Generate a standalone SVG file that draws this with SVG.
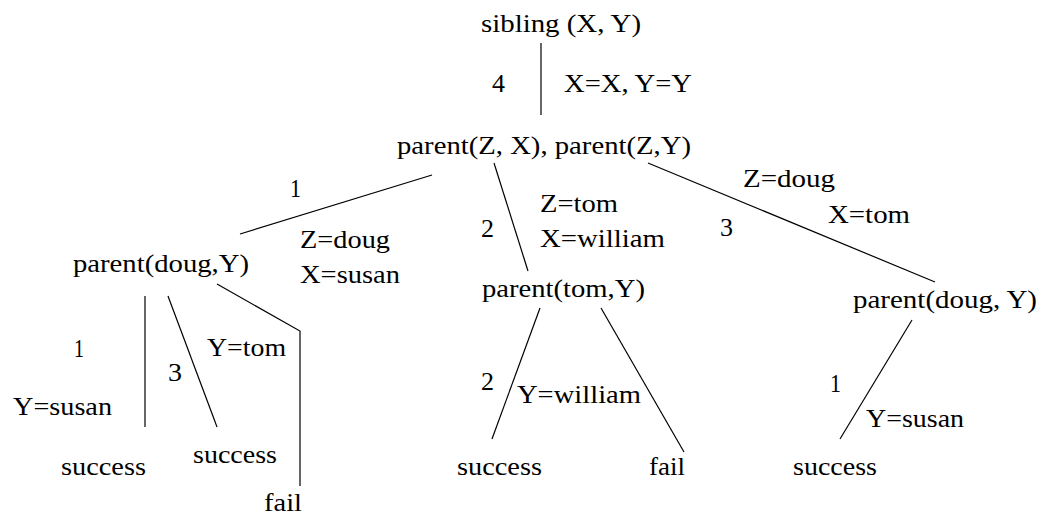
<svg xmlns="http://www.w3.org/2000/svg" width="1039" height="519" viewBox="0 0 1039 519">
<style>
text{font-family:"Liberation Serif","Times New Roman",serif;font-size:25px;fill:#000}
.c line,.c polyline{stroke:#000;stroke-width:1.2;fill:none}
</style>
<rect width="1039" height="519" fill="#fff"/>
<g class="c" id="connectors">
<line x1="541" y1="43" x2="541" y2="115"/>
<line x1="432" y1="175" x2="240" y2="234"/>
<line x1="494" y1="163" x2="528" y2="271"/>
<line x1="648" y1="163" x2="935" y2="282"/>
<line x1="145" y1="296" x2="145" y2="427"/>
<line x1="168" y1="296" x2="217" y2="427"/>
<polyline points="217,284 300,331 300,486"/>
<line x1="540" y1="308" x2="492" y2="439"/>
<line x1="601" y1="308" x2="684" y2="452"/>
<line x1="912" y1="320" x2="840" y2="439"/>
</g>
<g id="n-root"><text x="481" y="32" textLength="160" lengthAdjust="spacingAndGlyphs">sibling (X, Y)</text></g>
<g id="n-goal"><text x="397" y="154" textLength="294" lengthAdjust="spacingAndGlyphs">parent(Z, X), parent(Z,Y)</text></g>
<g id="n-doug1"><text x="73" y="272" textLength="176" lengthAdjust="spacingAndGlyphs">parent(doug,Y)</text></g>
<g id="n-tom"><text x="482" y="297" textLength="163" lengthAdjust="spacingAndGlyphs">parent(tom,Y)</text></g>
<g id="n-doug2"><text x="853" y="308" textLength="184" lengthAdjust="spacingAndGlyphs">parent(doug, Y)</text></g>
<g id="n-s1"><text x="61" y="475" textLength="85" lengthAdjust="spacingAndGlyphs">success</text></g>
<g id="n-s2"><text x="193" y="463" textLength="84" lengthAdjust="spacingAndGlyphs">success</text></g>
<g id="n-f1"><text x="264" y="511" textLength="38" lengthAdjust="spacingAndGlyphs">fail</text></g>
<g id="n-s3"><text x="457" y="475" textLength="85" lengthAdjust="spacingAndGlyphs">success</text></g>
<g id="n-f2"><text x="649" y="475" textLength="36" lengthAdjust="spacingAndGlyphs">fail</text></g>
<g id="n-s4"><text x="793" y="475" textLength="84" lengthAdjust="spacingAndGlyphs">success</text></g>
<g id="labels">
<text x="492" y="92" textLength="13" lengthAdjust="spacingAndGlyphs">4</text>
<text x="564" y="92" textLength="128" lengthAdjust="spacingAndGlyphs">X=X, Y=Y</text>
<text x="290" y="197" textLength="11" lengthAdjust="spacingAndGlyphs">1</text>
<text x="300" y="248" textLength="90" lengthAdjust="spacingAndGlyphs">Z=doug</text>
<text x="300" y="283" textLength="100" lengthAdjust="spacingAndGlyphs">X=susan</text>
<text x="481" y="237" textLength="13" lengthAdjust="spacingAndGlyphs">2</text>
<text x="540" y="212" textLength="78" lengthAdjust="spacingAndGlyphs">Z=tom</text>
<text x="540" y="247" textLength="125" lengthAdjust="spacingAndGlyphs">X=william</text>
<text x="743" y="187" textLength="92" lengthAdjust="spacingAndGlyphs">Z=doug</text>
<text x="828" y="223" textLength="82" lengthAdjust="spacingAndGlyphs">X=tom</text>
<text x="720" y="236" textLength="13" lengthAdjust="spacingAndGlyphs">3</text>
<text x="74" y="357" textLength="10" lengthAdjust="spacingAndGlyphs">1</text>
<text x="13" y="415" textLength="99" lengthAdjust="spacingAndGlyphs">Y=susan</text>
<text x="168" y="381" textLength="14" lengthAdjust="spacingAndGlyphs">3</text>
<text x="207" y="356" textLength="79" lengthAdjust="spacingAndGlyphs">Y=tom</text>
<text x="481" y="390" textLength="13" lengthAdjust="spacingAndGlyphs">2</text>
<text x="517" y="403" textLength="124" lengthAdjust="spacingAndGlyphs">Y=william</text>
<text x="830" y="392" textLength="11" lengthAdjust="spacingAndGlyphs">1</text>
<text x="866" y="427" textLength="98" lengthAdjust="spacingAndGlyphs">Y=susan</text>
</g>
</svg>
